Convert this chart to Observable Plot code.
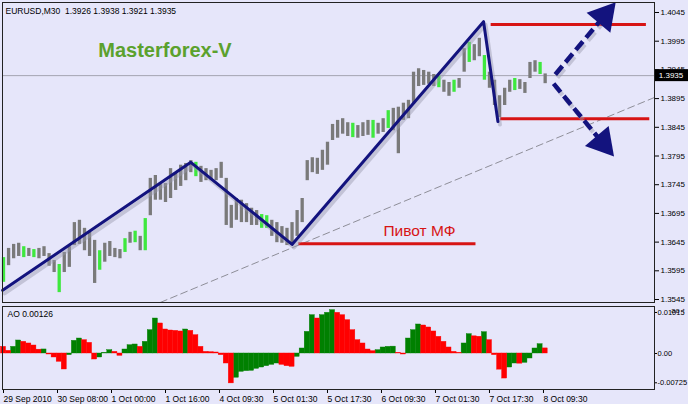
<!DOCTYPE html>
<html><head><meta charset="utf-8">
<script src="https://cdn.jsdelivr.net/npm/d3@7"></script>
<script src="https://cdn.jsdelivr.net/npm/@observablehq/plot@0.6"></script>
<style>
html,body{margin:0;padding:0;background:#e6e6fa;}
#wrap{position:relative;width:688px;height:404px;background:#e6e6fa;overflow:hidden;}
#wrap svg{position:absolute;left:0;}
</style></head><body><div id="wrap"></div>
<script>
// ---- data ----
const symbolHeader = "EURUSD,M30\u00a0\u00a01.3926 1.3938 1.3921 1.3935";
const brandLabel = "Masterforex-V";
const pivotText = "Пивот МФ";
const aoHeader = "AO 0.00126";
const currentPrice = 1.3935;
const barStep = 3; // M30 bars per sample
const highs = [
1.3618,1.3634,1.3641,1.3643,1.3637,1.3634,1.3632,1.3634,1.3637,1.3625,
1.3613,1.3606,1.3627,1.3637,1.3679,1.3683,1.3669,1.3662,1.3648,1.3630,
1.3643,1.3646,1.3634,1.3632,1.3651,1.3662,1.3664,1.3655,1.3686,1.3756,
1.3761,1.3745,1.3747,1.3773,1.3766,1.3779,1.3782,1.3787,1.3784,1.3777,
1.3773,1.3770,1.3773,1.3784,1.3756,1.3709,1.3721,1.3718,1.3712,1.3704,
1.3700,1.3693,1.3691,1.3683,1.3679,1.3672,1.3669,1.3679,1.3700,1.3721,
1.3787,1.3792,1.3791,1.3805,1.3819,1.3850,1.3857,1.3860,1.3853,1.3852,
1.3848,1.3853,1.3857,1.3857,1.3852,1.3860,1.3874,1.3878,1.3880,1.3887,
1.3892,1.3941,1.3947,1.3944,1.3941,1.3937,1.3934,1.3927,1.3923,1.3927,
1.3930,1.3982,1.3993,1.3989,1.4000,1.3970,1.3941,1.3927,1.3900,1.3913,
1.3927,1.3930,1.3928,1.3923,1.3958,1.3961,1.3958,1.3938];
const lows = [
1.3575,1.3604,1.3616,1.3620,1.3618,1.3620,1.3618,1.3616,1.3620,1.3603,
1.3592,1.3557,1.3592,1.3601,1.3639,1.3641,1.3630,1.3620,1.3573,1.3596,
1.3610,1.3620,1.3618,1.3616,1.3627,1.3643,1.3644,1.3630,1.3630,1.3691,
1.3718,1.3718,1.3714,1.3721,1.3735,1.3742,1.3752,1.3766,1.3759,1.3749,
1.3752,1.3752,1.3752,1.3756,1.3674,1.3669,1.3683,1.3679,1.3679,1.3674,
1.3674,1.3669,1.3669,1.3655,1.3644,1.3643,1.3639,1.3641,1.3655,1.3679,
1.3752,1.3766,1.3763,1.3770,1.3779,1.3822,1.3826,1.3833,1.3829,1.3827,
1.3826,1.3829,1.3831,1.3826,1.3833,1.3836,1.3843,1.3839,1.3799,1.3857,
1.3860,1.3885,1.3916,1.3918,1.3920,1.3916,1.3914,1.3906,1.3899,1.3906,
1.3913,1.3941,1.3958,1.3961,1.3968,1.3927,1.3913,1.3883,1.3862,1.3883,
1.3906,1.3909,1.3911,1.3904,1.3930,1.3941,1.3937,1.3921];
const greenBars = [0,4,6,11,19,24,26,28,38,51,52,69,73,76,86,89,92,95,101,106];
const aoValues = [
0.00165,0.00066,0.00165,0.00322,0.00289,0.00248,0.00198,0.00095,0.00100,-0.00025,
-0.00099,-0.00206,-0.00396,-0.00041,0.00314,0.00371,0.00330,0.00264,-0.00149,-0.00099,
0.00017,0.00083,0.00041,-0.00058,0.00099,0.00206,0.00223,0.00165,0.00289,0.00578,
0.00866,0.00743,0.00594,0.00569,0.00561,0.00545,0.00594,0.00561,0.00454,0.00165,
0.00041,0.00033,0.00025,-0.00041,-0.00248,-0.00740,-0.00600,-0.00454,-0.00437,-0.00429,
-0.00380,-0.00347,-0.00314,-0.00281,-0.00248,-0.00281,-0.00314,-0.00330,-0.00083,0.00124,
0.00536,0.00949,0.00866,0.00949,0.01007,0.01073,0.01007,0.00949,0.00825,0.00578,
0.00330,0.00248,0.00099,0.00058,0.00083,0.00149,0.00165,0.00170,0.00017,-0.00025,
0.00371,0.00578,0.00718,0.00693,0.00644,0.00545,0.00413,0.00289,0.00149,0.00041,
0.00017,0.00248,0.00479,0.00425,0.00415,0.00528,0.00330,-0.00041,-0.00400,-0.00620,
-0.00347,-0.00248,-0.00252,-0.00231,-0.00124,0.00124,0.00231,0.00126];
const priceTicks = [1.4045,1.3995,1.3945,1.3895,1.3845,1.3795,1.3745,1.3695,1.3645,1.3595,1.3545];
const aoTicks = [0.01015, 0, -0.00725];
const timeTicks = [0,32,64,96,128,160,192,224,256,288,320];
const timeLabels = ["29 Sep 2010","30 Sep 08:00","1 Oct 00:00","1 Oct 16:00","4 Oct 09:30","5 Oct 01:30","5 Oct 17:30","6 Oct 09:30","7 Oct 01:30","7 Oct 17:30","8 Oct 09:30"];
const zigzagBars = [-0.5, 111, 171, 284.5, 293];
const zigzagPrices = [1.3561, 1.3784, 1.3641, 1.4029, 1.3855];
const trendBars = [93, 385.8];
const trendPrices = [1.3540, 1.3897];
const levelPrices = [1.3642, 1.4024, 1.3860];
const levelFrom = [175, 289, 294.5];
const levelTo = [280, 381, 383];
const pivotLabelAt = {bar: 246.5, price: 1.36635};
const brandAt = {bar: 95.7, price: 1.3978};
const arrowUp = {bar1: 327, price1: 1.3937, bar2: 356, price2: 1.4039};
const arrowDown = {bar1: 326, price1: 1.3921, bar2: 355, price2: 1.3818};

// ---- derived tables ----
const bars = highs.map((h, i) => ({bar: i * barStep, high: h, low: lows[i], green: greenBars.includes(i)}));
const ao = aoValues.map((v, i) => ({bar: i * barStep, ao: v, up: i > 0 && v > aoValues[i - 1]}));
const zigzag = zigzagBars.map((b, i) => ({bar: b, price: zigzagPrices[i]}));
const trend = trendBars.map((b, i) => ({bar: b, price: trendPrices[i]}));
const levels = levelPrices.map((p, i) => ({price: p, from: levelFrom[i], to: levelTo[i]}));
const arrows = [arrowUp, arrowDown];

const FONT = "Liberation Sans, Arial, sans-serif";
const xDomain = [-0.6, 385.8];
const navy = "#13137e";
const red = "#d71414";

const topChart = Plot.plot({
  width: 688, height: 304,
  marginLeft: 2, marginRight: 34, marginTop: 2, marginBottom: 2,
  style: {background: "transparent", fontFamily: FONT, fontSize: "8px", color: "#000", overflow: "visible"},
  x: {domain: xDomain, axis: null},
  y: {domain: [1.35398, 1.40624], axis: null},
  marks: [
    Plot.ruleY([currentPrice], {stroke: "#a4a4b0", strokeWidth: 1}),
    Plot.line(trend, {x: "bar", y: "price", stroke: "#8e8e98", strokeWidth: 1, strokeDasharray: "7,4"}),
    Plot.ruleX(bars.filter(d => !d.green), {x: "bar", y1: "low", y2: "high", stroke: "#7a7a7a", strokeWidth: 3.3}),
    Plot.ruleX(bars.filter(d => d.green), {x: "bar", y1: "low", y2: "high", stroke: "#3ee83e", strokeWidth: 3.3}),
    Plot.ruleY(levels, {y: "price", x1: "from", x2: "to", stroke: red, strokeWidth: 3}),
    Plot.text([pivotText], {x: () => pivotLabelAt.bar, y: () => pivotLabelAt.price, text: d => d, fill: red, fontSize: 15.5, fontFamily: FONT}),
    Plot.text([brandLabel], {x: () => brandAt.bar, y: () => brandAt.price, text: d => d, fill: "#5ba12d", fontSize: 20, fontWeight: "bold", fontFamily: FONT}),
    Plot.line(zigzag, {x: "bar", y: "price", stroke: "#9a9aae", strokeOpacity: 0.45, strokeWidth: 4, dx: 2, dy: 3}),
    Plot.line(zigzag, {x: "bar", y: "price", stroke: navy, strokeWidth: 3}),
    Plot.link(arrows, {x1: "bar1", y1: "price1", x2: "bar2", y2: "price2", stroke: "#9a9aae", strokeOpacity: 0.45, strokeWidth: 4.5, strokeDasharray: "11,5", dx: 2, dy: 3}),
    Plot.link(arrows, {x1: "bar1", y1: "price1", x2: "bar2", y2: "price2", stroke: navy, strokeWidth: 4.5, strokeDasharray: "11,5"}),
    Plot.dot([arrowUp], {x: "bar2", y: "price2", symbol: "triangle", r: 11.5, fill: navy, rotate: 40}),
    Plot.dot([arrowDown], {x: "bar2", y: "price2", symbol: "triangle", r: 11.5, fill: navy, rotate: 140}),
    Plot.text([symbolHeader], {frameAnchor: "top-left", dx: 3, dy: 5, textAnchor: "start", lineAnchor: "top", fontSize: 8.5, fill: "#000"}),
    Plot.axisY({anchor: "right", ticks: priceTicks, tickSize: 4, tickPadding: 2, tickFormat: d => d.toFixed(4), fontSize: 8, stroke: "#000", fill: "#000"}),
    Plot.frame({stroke: "#222"})
  ]
});

const botChart = Plot.plot({
  width: 688, height: 100,
  marginLeft: 2, marginRight: 34, marginTop: 2, marginBottom: 15,
  style: {background: "transparent", fontFamily: FONT, fontSize: "8px", color: "#000", overflow: "visible"},
  x: {domain: xDomain, axis: null},
  y: {domain: [-0.00891, 0.01163], axis: null},
  marks: [
    Plot.rect(ao.filter(d => d.up), {x1: d => d.bar - barStep / 2, x2: d => d.bar + barStep / 2, y1: () => 0, y2: "ao", fill: "#008000", stroke: "#008000", strokeWidth: 0.4}),
    Plot.rect(ao.filter(d => !d.up), {x1: d => d.bar - barStep / 2, x2: d => d.bar + barStep / 2, y1: () => 0, y2: "ao", fill: "#ff0000", stroke: "#ff0000", strokeWidth: 0.4}),
    Plot.text([aoHeader], {frameAnchor: "top-left", dx: 5, dy: 4, textAnchor: "start", lineAnchor: "top", fontSize: 8.5, fill: "#000"}),
    Plot.axisY({anchor: "right", ticks: aoTicks, tickSize: 2, tickPadding: 1, tickFormat: d => d === 0 ? "0.00" : d.toFixed(5), fontSize: 7.5}),
    Plot.axisX({ticks: timeTicks, tickFormat: (d, i) => timeLabels[i], tickSize: 4, tickPadding: 2, textAnchor: "start", dx: 0, fontSize: 8.5}),
    Plot.frame({stroke: "#222"})
  ]
});

const wrap = document.getElementById("wrap");
topChart.style.top = "0px";
botChart.style.top = "304px";
wrap.appendChild(topChart);
wrap.appendChild(botChart);

// current price marker box on the right axis, positioned with the plot's y scale
const yPx = topChart.scale("y").apply(currentPrice);
const svg = d3.select(topChart);
svg.append("rect").attr("x", 655).attr("y", yPx - 6).attr("width", 33).attr("height", 12).attr("fill", "#000");
svg.append("text").attr("x", 671).attr("y", yPx).attr("dy", "0.35em").attr("text-anchor", "middle").attr("fill", "#fff")
  .attr("font-size", 8).attr("font-family", FONT).text(currentPrice.toFixed(4));
</script></body></html>
